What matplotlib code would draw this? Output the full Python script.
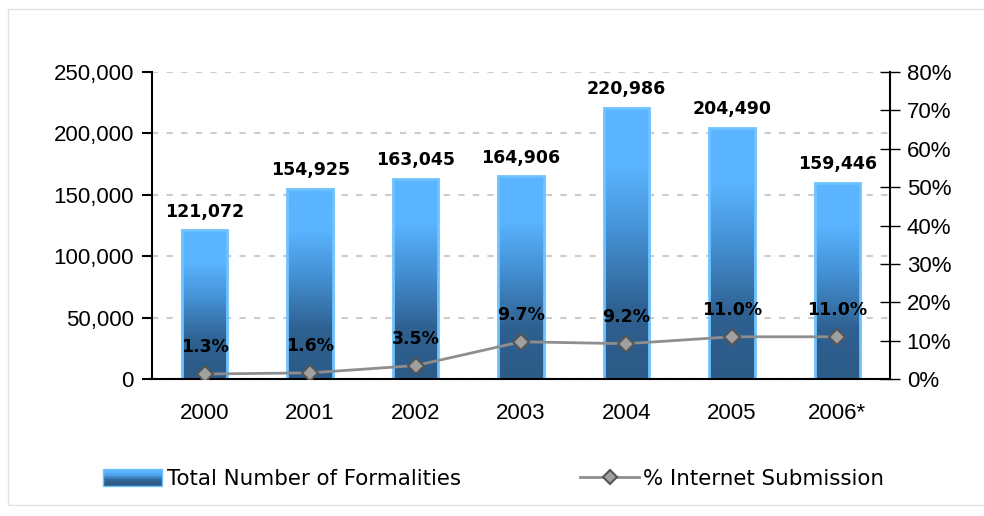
#!/usr/bin/env python3

import numpy as np
import matplotlib
matplotlib.use("Agg")
import matplotlib.pyplot as plt
from matplotlib.colors import LinearSegmentedColormap
from matplotlib.legend_handler import HandlerBase
from matplotlib.lines import Line2D
from matplotlib.patches import Rectangle
from matplotlib.ticker import FuncFormatter, MultipleLocator

years = ["2000", "2001", "2002", "2003", "2004", "2005", "2006*"]
formalities = [121072, 154925, 163045, 164906, 220986, 204490, 159446]
internet_pct = [1.3, 1.6, 3.5, 9.7, 9.2, 11.0, 11.0]

LIGHT = "#5ab4ff"
DARK = "#2c5b87"
EDGE = "#6ec2ff"
# bottom -> top colour stops of the bar fill
grad = LinearSegmentedColormap.from_list(
    "bar", [(0.0, DARK), (0.25, "#2e6090"), (0.55, "#4592d6"), (0.78, LIGHT), (1.0, LIGHT)], N=256)

plt.rcParams["font.family"] = ["Liberation Sans", "DejaVu Sans"]

fig = plt.figure(figsize=(9.84, 5.16), dpi=100)
# thin grey frame around the whole chart
fig.patches.append(Rectangle((8 / 984, 11 / 516), 1.2, 496 / 516, transform=fig.transFigure,
                             fill=False, edgecolor="#e2e2e2", linewidth=1))

ax = fig.add_axes([152 / 984, 137 / 516, 738 / 984, 307 / 516])
x = np.arange(len(years))

bars = ax.bar(x, formalities, width=0.43, facecolor="none", edgecolor=EDGE, linewidth=2, zorder=2.2)
ax.set_xlim(-0.5, len(years) - 0.5)
ax.set_ylim(0, 250000)

# vertical gradient inside each bar
g = np.linspace(0, 1, 256).reshape(-1, 1)
for b in bars:
    x0, w, h = b.get_x(), b.get_width(), b.get_height()
    im = ax.imshow(g, cmap=grad, extent=(x0, x0 + w, 0, h), origin="lower",
                   aspect="auto", zorder=2.1)
    im.set_clip_path(b)
    ax.annotate(f"{int(h):,}", (x0 + w / 2, h), xytext=(0, 7), textcoords="offset points",
                ha="center", va="bottom", fontsize=12.5, fontweight="bold",
                family="DejaVu Sans")
ax.set_xlim(-0.5, len(years) - 0.5)
ax.set_ylim(0, 250000)

ax.yaxis.set_major_locator(MultipleLocator(50000))
ax.yaxis.set_major_formatter(FuncFormatter(lambda v, p: f"{int(v):,}"))
ax.set_xticks(x)
ax.set_xticklabels(years)
ax.tick_params(axis="x", length=0, pad=17, labelsize=16)
ax.tick_params(axis="y", length=7, width=1.5, pad=6, labelsize=16)
ax.grid(axis="y", color="#cccccc", linestyle=(0, (3, 4)), linewidth=1.5, zorder=0)
ax.set_axisbelow(True)
for s in ["top", "right"]:
    ax.spines[s].set_visible(False)
ax.spines["left"].set_linewidth(1.5)
ax.spines["bottom"].set_linewidth(1.5)

ax2 = ax.twinx()
ax2.plot(x, internet_pct, color="#8e8e8e", linewidth=2, marker="D", markersize=8,
         markerfacecolor="#a0a0a0", markeredgecolor="#555555", markeredgewidth=1.5, zorder=3)
for xi, p in zip(x, internet_pct):
    ax2.annotate(f"{p:.1f}%", (xi, p), xytext=(0, 13), textcoords="offset points",
                 ha="center", va="bottom", fontsize=12.5, fontweight="bold",
                 family="DejaVu Sans")
ax2.set_ylim(0, 80)
ax2.yaxis.set_major_locator(MultipleLocator(10))
ax2.yaxis.set_major_formatter(FuncFormatter(lambda v, p: f"{int(v)}%"))
ax2.tick_params(axis="y", length=14, direction="inout", width=1, pad=5, labelsize=16)
for s in ["top", "left", "bottom"]:
    ax2.spines[s].set_visible(False)
ax2.spines["right"].set_linewidth(1.5)


class GradientHandler(HandlerBase):
    def create_artists(self, legend, orig, xd, yd, width, height, fontsize, trans):
        n = 14
        arts = []
        for i in range(n):
            c = grad(1 - i / (n - 1))
            arts.append(Rectangle((-xd, -yd + height * (1 - (i + 1) / n)), width, height / n + 0.3,
                                  facecolor=c, edgecolor="none", transform=trans))
        arts.append(Rectangle((-xd, -yd), width, height, facecolor="none",
                              edgecolor=EDGE, linewidth=1, transform=trans))
        return arts


bar_handle = Rectangle((0, 0), 1, 1)
line_handle = Line2D([], [], color="#8e8e8e", linewidth=2, marker="D", markersize=7,
                     markerfacecolor="#a0a0a0", markeredgecolor="#555555", markeredgewidth=1.5)
fig.legend([bar_handle, line_handle], ["Total Number of Formalities", "% Internet Submission"],
           handler_map={Rectangle: GradientHandler()}, loc="center", bbox_to_anchor=(0.502, 0.072),
           ncol=2, frameon=False, handlelength=2.75, handleheight=0.8,
           handletextpad=0.2, columnspacing=5.6, prop={"family": "DejaVu Sans", "size": 15.4})

fig.savefig("out.png", dpi=100)
